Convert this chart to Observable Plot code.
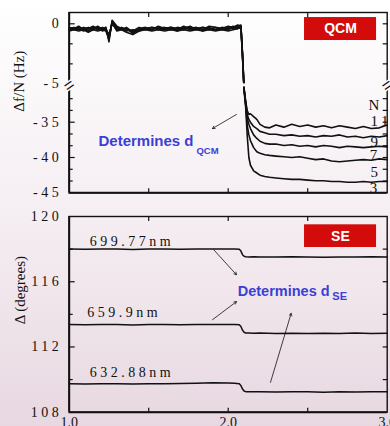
<!DOCTYPE html>
<html>
<head>
<meta charset="utf-8">
<script src="https://cdn.jsdelivr.net/npm/d3@7"></script>
<script src="https://cdn.jsdelivr.net/npm/@observablehq/plot@0.6"></script>
<style>
html, body { margin: 0; padding: 0; }
body { width: 390px; height: 426px; overflow: hidden;
  background: linear-gradient(to bottom, #ffffff 0%, #f5eef2 50%, #e8d8e1 100%); }
#chart svg { display: block; }
g[aria-label="y-axis tick label"] text { letter-spacing: 3.5px; }
</style>
</head>
<body>
<div id="chart"></div>
<script>
// ---------- QCM panel data ----------
const qcmTime = [1.00,1.03,1.06,1.09,1.12,1.15,1.18,1.21,1.23,1.25,1.27,1.30,1.33,1.36,1.40,1.44,1.48,1.52,1.56,1.60,1.64,1.68,1.72,1.76,1.80,1.84,1.88,1.92,1.96,2.00,2.03,2.06,2.08,
  2.09,2.10,2.11,2.12,2.13,2.14,2.16,2.18,2.20,2.23,2.26,
  2.30,2.35,2.40,2.45,2.50,2.55,2.60,2.65,2.70,2.75,2.80,2.85,2.90,2.95,3.00];
const qcmN11 = [-0.3,-0.4,-0.2,-0.5,-0.3,-0.4,-0.2,-0.5,-0.3,-1.3,0.2,-0.3,-0.5,-0.3,-0.7,-0.4,-0.3,-0.5,-0.2,-0.4,-0.3,-0.5,-0.2,-0.4,-0.3,-0.5,-0.2,-0.3,-0.4,-0.2,-0.3,-0.1,-0.2,
  -2.5,-30.3,-32.0,-33.4,-33.9,-33.8,-34.2,-34.6,-35.3,-35.7,-35.8,
  -35.4,-35.7,-35.3,-35.6,-35.4,-35.7,-35.5,-35.8,-35.5,-35.7,-35.9,-35.6,-35.9,-35.8,-35.4];
const qcmN9 = [-0.4,-0.3,-0.5,-0.3,-0.4,-0.2,-0.4,-0.3,-0.5,-1.1,0.1,-0.4,-0.3,-0.5,-0.6,-0.3,-0.5,-0.3,-0.4,-0.3,-0.5,-0.3,-0.4,-0.2,-0.5,-0.3,-0.4,-0.5,-0.3,-0.4,-0.2,-0.3,-0.2,
  -2.5,-30.3,-32.2,-34.0,-34.6,-35.0,-35.6,-35.9,-36.3,-36.5,-36.7,
  -36.7,-36.9,-36.8,-37.0,-36.9,-37.1,-36.9,-37.0,-36.8,-37.1,-37.0,-37.2,-37.0,-37.1,-36.9];
const qcmN7 = [-0.5,-0.4,-0.3,-0.4,-0.6,-0.3,-0.5,-0.4,-0.3,-1.5,0.3,-0.2,-0.4,-0.4,-0.8,-0.5,-0.4,-0.3,-0.5,-0.4,-0.3,-0.4,-0.5,-0.3,-0.4,-0.3,-0.5,-0.3,-0.5,-0.3,-0.4,-0.2,-0.1,
  -2.6,-30.3,-32.4,-34.5,-35.3,-35.9,-36.8,-37.3,-37.7,-38.0,-38.1,
  -38.1,-38.3,-38.2,-38.4,-38.3,-38.5,-38.3,-38.4,-38.6,-38.4,-38.5,-38.6,-38.5,-38.4,-38.5];
const qcmN5 = [-0.4,-0.5,-0.4,-0.6,-0.4,-0.5,-0.3,-0.6,-0.4,-0.9,0.0,-0.5,-0.4,-0.6,-0.5,-0.6,-0.4,-0.5,-0.3,-0.5,-0.4,-0.6,-0.3,-0.5,-0.4,-0.6,-0.3,-0.5,-0.4,-0.5,-0.3,-0.4,-0.2,
  -2.7,-30.4,-32.6,-35.5,-36.8,-37.6,-38.6,-39.2,-39.4,-39.6,-39.7,
  -39.8,-39.9,-40.0,-39.9,-40.1,-40.3,-40.2,-40.5,-40.6,-40.5,-40.4,-40.3,-40.4,-40.2,-40.3];
const qcmN3 = [-0.6,-0.5,-0.6,-0.5,-0.7,-0.5,-0.6,-0.5,-0.6,-1.2,0.1,-0.6,-0.5,-0.7,-0.9,-0.6,-0.5,-0.6,-0.5,-0.6,-0.5,-0.6,-0.5,-0.6,-0.5,-0.6,-0.5,-0.6,-0.5,-0.6,-0.5,-0.4,-0.3,
  -2.8,-30.5,-32.9,-37.0,-40.0,-41.1,-41.9,-42.2,-42.5,-42.7,-42.8,
  -42.9,-43.0,-43.1,-43.1,-43.2,-43.3,-43.3,-43.4,-43.4,-43.5,-43.5,-43.4,-43.5,-43.4,-43.4];
const qcmHarmonics = ["11", "9", "7", "5", "3"];
const qcmValues = [qcmN11, qcmN9, qcmN7, qcmN5, qcmN3];

const qcmTickLabels = [0, -5, -35, -40, -45];
const qcmMajorTicks = [0, -35, -40];
const qcmMinorTicks = [-1.667, -3.333, -31.667, -33.333, -36.667, -38.333, -41.667, -43.333];

const harmonicText = ["N", "11", "9", "7", "5", "3"];
const harmonicT = [2.882, 2.895, 2.895, 2.89, 2.895, 2.89];
const harmonicV = [-33.34, -35.47, -38.55, -40.33, -42.8, -45.07];

// ---------- SE panel data ----------
const seTime = [1.00,1.10,1.20,1.30,1.40,1.50,1.60,1.70,1.80,1.90,2.00,2.04,2.07,2.08,2.09,2.10,2.11,2.13,2.16,2.20,2.30,2.40,2.50,2.60,2.70,2.80,2.90,3.00];
const se699 = [118.00,117.99,118.01,118.00,117.98,118.01,118.00,117.99,118.01,118.00,118.01,118.00,117.99,117.88,117.66,117.56,117.53,117.52,117.53,117.52,117.51,117.53,117.52,117.50,117.52,117.51,117.53,117.52];
const se659 = [113.37,113.36,113.38,113.37,113.35,113.38,113.37,113.36,113.38,113.37,113.38,113.37,113.36,113.26,113.03,112.90,112.86,112.85,112.84,112.85,112.83,112.84,112.82,112.84,112.83,112.85,112.83,112.84];
const se632 = [109.74,109.73,109.75,109.74,109.73,109.75,109.74,109.76,109.78,109.81,109.79,109.78,109.75,109.63,109.42,109.30,109.26,109.25,109.26,109.25,109.24,109.26,109.25,109.23,109.25,109.24,109.26,109.25];
const seWavelengths = ["699.77nm", "659.9nm", "632.88nm"];
const seValues = [se699, se659, se632];
const seLabelT = [1.130, 1.113, 1.130];
const seLabelV = [118.21, 113.82, 110.18];

const seTickLabels = [120, 116, 112, 108];
const seMajorTicks = [116, 112];
const seMinorTicks = [118, 114, 110];
const seRightTicks = [118, 116, 114, 112, 110];
const xTickLabels = [1, 2, 3];
const xInnerTicks = [1.5, 2, 2.5];

// ---------- styles ----------
const blue = "#3b3fd6";
const red = "#d30b0b";
const serif = "'Liberation Serif', 'DejaVu Serif', serif";
const sans = "'Liberation Sans', Arial, sans-serif";
const breakBg = "#fbf8f9";

// broken (piecewise) axis for the QCM panel: value -> axis units
const brk = d3.scaleLinear().domain([-45, -30, -5, 0.94]).range([0, 105.9, 108.9, 180.3]);
const fy = v => brk(v);
const fmtBrk = u => String(Math.round(brk.invert(u)));

const qcmRows = qcmHarmonics.flatMap((n, k) => qcmTime.map((t, i) => ({t, v: qcmValues[k][i], n})));
const seRows = seWavelengths.flatMap((w, k) => seTime.map((t, i) => ({t, v: seValues[k][i], w})));
const harmRows = harmonicText.map((s, i) => ({s, t: harmonicT[i], v: harmonicV[i]}));
const seLabelRows = seWavelengths.map((s, i) => ({s, t: seLabelT[i], v: seLabelV[i]}));

const topPlot = Plot.plot({
  width: 390, height: 200,
  marginLeft: 68.7, marginRight: 3.3, marginTop: 12, marginBottom: 7.7,
  style: {background: "transparent", fontFamily: serif, fontSize: "14px", color: "#111"},
  x: {domain: [1, 3]},
  y: {domain: [0, 180.3]},
  marks: [
    Plot.line(qcmRows, {x: "t", y: d => fy(d.v), z: "n", stroke: "#111", strokeWidth: 1.6}),
    Plot.rect([{x1: 2.083, x2: 2.12, y1: -5, y2: -30}], {x1: "x1", x2: "x2", y1: d => fy(d.y1), y2: d => fy(d.y2), fill: breakBg}),
    Plot.frame({stroke: "#111", strokeWidth: 1.4}),
    Plot.ruleX([1], {stroke: "#111", strokeWidth: 2}),
    Plot.ruleY([-45], {y: fy, stroke: "#111", strokeWidth: 2}),
    Plot.axisY({ticks: qcmMajorTicks.map(fy), anchor: "left", tickSize: 6, dx: 6, fill: null, label: null, strokeWidth: 1.2}),
    Plot.axisY({ticks: qcmMinorTicks.map(fy), anchor: "left", tickSize: 4, dx: 4, fill: null, label: null, strokeWidth: 1.2}),
    Plot.axisY({ticks: qcmMajorTicks.concat(qcmMinorTicks).map(fy), anchor: "right", tickSize: 5, dx: -5, fill: null, label: null, strokeWidth: 1.2}),
    Plot.axisY({ticks: qcmTickLabels.map(fy), anchor: "left", tickSize: 0, tickPadding: 7, tickFormat: fmtBrk, label: null, fontSize: 14}),
    Plot.axisX({ticks: xInnerTicks, anchor: "top", tickSize: 4, dy: 4, fill: null, label: null, strokeWidth: 1.2}),
    Plot.axisX({ticks: xInnerTicks, anchor: "bottom", tickSize: 4, dy: -4, fill: null, label: null, strokeWidth: 1.2}),
    // axis break marks
    Plot.text([{t: 1, v: -17.5}, {t: 3, v: -17.5}], {x: "t", y: d => fy(d.v), text: () => "=", rotate: -35, fontSize: 17, fontFamily: sans, fill: "#111", stroke: breakBg, strokeWidth: 3}),
    // y label
    Plot.text(["Δf/N (Hz)"], {frameAnchor: "left", dx: -50, dy: 9, rotate: -90, fontSize: 15, fontFamily: serif, fill: "#111"}),
    // harmonic labels
    Plot.text(harmRows, {x: "t", y: d => fy(d.v), text: "s", textAnchor: "start", lineAnchor: "bottom", fontSize: 15, fontFamily: serif, fill: "#111"}),
    // QCM badge
    Plot.rect([{x1: 2.48, x2: 2.933, y1: 0.52, y2: -1.39}], {x1: "x1", x2: "x2", y1: d => fy(d.y1), y2: d => fy(d.y2), fill: red}),
    Plot.text([{s: "QCM", t: 2.706, v: -0.43}], {x: "t", y: d => fy(d.v), text: "s", fill: "white", fontWeight: "bold", fontSize: 14, fontFamily: sans}),
    // annotation
    Plot.arrow([{x1: 2.052, y1: -33.9, x2: 1.901, y2: -35.9}], {x1: "x1", y1: d => fy(d.y1), x2: "x2", y2: d => fy(d.y2), stroke: "#111", strokeWidth: 0.8, headLength: 5}),
    Plot.text([{s: "Determines d", t: 1.184, v: -38.35}], {x: "t", y: d => fy(d.v), text: "s", textAnchor: "start", lineAnchor: "bottom", fill: blue, fontWeight: "bold", fontSize: 15, fontFamily: sans}),
    Plot.text([{s: "QCM", t: 1.80, v: -39.44}], {x: "t", y: d => fy(d.v), text: "s", textAnchor: "start", lineAnchor: "bottom", fill: blue, fontWeight: "bold", fontSize: 9.5, fontFamily: sans})
  ]
});

const bottomPlot = Plot.plot({
  width: 390, height: 226,
  marginLeft: 68.7, marginRight: 3.3, marginTop: 16, marginBottom: 14.3,
  style: {background: "transparent", fontFamily: serif, fontSize: "14px", color: "#111"},
  x: {domain: [1, 3]},
  y: {domain: [108, 120]},
  marks: [
    Plot.line(seRows, {x: "t", y: "v", z: "w", stroke: "#111", strokeWidth: 1.5}),
    Plot.frame({stroke: "#111", strokeWidth: 1.4}),
    Plot.ruleX([1], {stroke: "#111", strokeWidth: 2}),
    Plot.ruleY([108], {stroke: "#111", strokeWidth: 2}),
    Plot.axisY({ticks: seMajorTicks, anchor: "left", tickSize: 6, dx: 6, fill: null, label: null, strokeWidth: 1.2}),
    Plot.axisY({ticks: seMinorTicks, anchor: "left", tickSize: 4, dx: 4, fill: null, label: null, strokeWidth: 1.2}),
    Plot.axisY({ticks: seRightTicks, anchor: "right", tickSize: 5, dx: -5, fill: null, label: null, strokeWidth: 1.2}),
    Plot.axisY({ticks: seTickLabels, anchor: "left", tickSize: 0, tickPadding: 7, tickFormat: d => String(d), label: null, fontSize: 14}),
    Plot.axisX({ticks: xInnerTicks, anchor: "top", tickSize: 4, dy: 4, fill: null, label: null, strokeWidth: 1.2}),
    Plot.axisX({ticks: xInnerTicks, anchor: "bottom", tickSize: 4, dy: -4, fill: null, label: null, strokeWidth: 1.2}),
    Plot.axisX({ticks: xTickLabels, anchor: "bottom", tickSize: 0, tickPadding: 5, tickFormat: d => d.toFixed(1), label: null, fontSize: 14}),
    Plot.text(["Δ (degrees)"], {frameAnchor: "left", dx: -49, dy: 10, rotate: -90, fontSize: 15, fontFamily: serif, fill: "#111"}),
    Plot.text(seLabelRows, {x: "t", y: "v", text: "s", textAnchor: "start", lineAnchor: "bottom", fontSize: 14, fontFamily: serif, fill: "#111"}),
    Plot.rect([{x1: 2.48, x2: 2.933, y1: 119.49, y2: 118.10}], {x1: "x1", x2: "x2", y1: "y1", y2: "y2", fill: red}),
    Plot.text([{s: "SE", t: 2.706, v: 118.8}], {x: "t", y: "v", text: "s", fill: "white", fontWeight: "bold", fontSize: 14, fontFamily: sans}),
    Plot.arrow([
      {x1: 1.909, y1: 117.96, x2: 2.052, y2: 116.43},
      {x1: 1.901, y1: 113.67, x2: 2.052, y2: 114.78},
      {x1: 2.266, y1: 109.83, x2: 2.396, y2: 114.06}
    ], {x1: "x1", y1: "y1", x2: "x2", y2: "y2", stroke: "#111", strokeWidth: 0.8, headLength: 5}),
    Plot.text([{s: "Determines d", t: 2.060, v: 115.14}], {x: "t", y: "v", text: "s", textAnchor: "start", lineAnchor: "bottom", fill: blue, fontWeight: "bold", fontSize: 14.5, fontFamily: sans}),
    Plot.text([{s: "SE", t: 2.655, v: 114.90}], {x: "t", y: "v", text: "s", textAnchor: "start", lineAnchor: "bottom", fill: blue, fontWeight: "bold", fontSize: 11, fontFamily: sans})
  ]
});

// letter-spaced serif labels, as in the reference
const spaced = new Set(seWavelengths.concat(harmonicText));
for (const svg of [topPlot, bottomPlot]) {
  d3.select(svg).selectAll("text").filter(function() { return spaced.has(this.textContent); })
    .style("letter-spacing", "3.5px");
}

const chart = document.getElementById("chart");
chart.appendChild(topPlot);
chart.appendChild(bottomPlot);
</script>
</body>
</html>
